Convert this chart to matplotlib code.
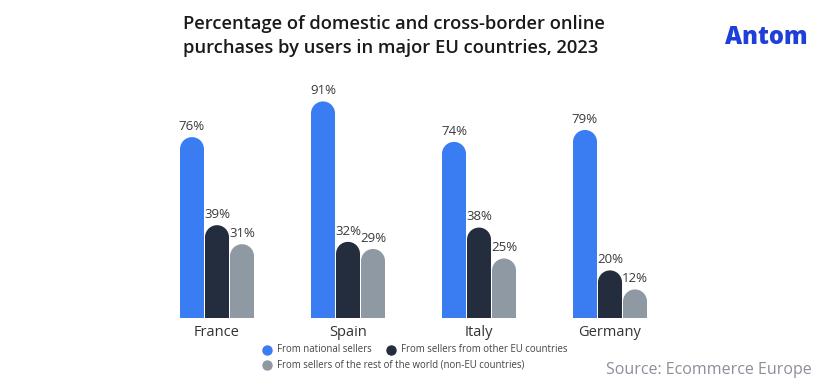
import numpy as np
import matplotlib.pyplot as plt
from matplotlib.patches import Rectangle, Ellipse
from matplotlib.lines import Line2D

plt.rcParams['font.family'] = ['Open Sans', 'Noto Sans', 'DejaVu Sans']

# data
countries = ['France', 'Spain', 'Italy', 'Germany']
national = [76, 91, 74, 79]
other_eu = [39, 32, 38, 20]
rest_world = [31, 29, 25, 12]
series_names = ['From national sellers',
                'From sellers from other EU countries',
                'From sellers of the rest of the world (non-EU countries)']
colors = ['#3A7CF2', '#232D3D', '#8F99A4']

W_PX, H_PX = 828, 390
fig = plt.figure(figsize=(W_PX / 100, H_PX / 100), dpi=100)
fig.patch.set_facecolor('white')

# axes placed in pixel terms: baseline at y=318, 2.38 px per %
ax_l, ax_r, ax_b, ax_t = 150, 680, 318, 80
ax = fig.add_axes([ax_l / W_PX, 1 - ax_b / H_PX, (ax_r - ax_l) / W_PX, (ax_b - ax_t) / H_PX])
ax.set_facecolor('white')
spacing_px = 131.0
first_c = 217
ax.set_xlim((ax_l - first_c) / spacing_px, (ax_r - first_c) / spacing_px)
ymax = (ax_b - ax_t) / 2.38
ax.set_ylim(0, ymax)
ax.axis('off')

bar_px = 24.0
bw = bar_px / spacing_px
step = 25.0 / spacing_px
cap_h = (bar_px / 2) / 2.38  # radius in data y units

for si, vals in enumerate([national, other_eu, rest_world]):
    for ci, v in enumerate(vals):
        x = ci + (si - 1) * step
        ax.add_patch(Rectangle((x - bw / 2, 0), bw, v - cap_h, color=colors[si], lw=0))
        ax.add_patch(Ellipse((x, v - cap_h), bw, 2 * cap_h, color=colors[si], lw=0))
        ax.text(x, v + 1.8, f'{v}%', ha='center', va='bottom', fontsize=9.5, color='#3a3a3a')

for ci, c in enumerate(countries):
    ax.text(ci, -3.0, c, ha='center', va='top', fontsize=10.5, color='#333333')

# title
fig.text(183 / W_PX, 1 - 15 / H_PX,
         'Percentage of domestic and cross-border online\npurchases by users in major EU countries, 2023',
         ha='left', va='top', fontsize=13.2, fontweight='semibold', color='#1a1a1a', linespacing=1.4)

# logo text
fig.text(808 / W_PX, 1 - 38 / H_PX, 'Antom', ha='right', va='center',
         fontsize=17, fontweight='heavy', color='#1E3FD8')

# legend
leg_items = [(267, 350, 0), (391, 350, 1), (267, 365, 2)]
for x, y, i in leg_items:
    fig.add_artist(Line2D([x / W_PX], [1 - y / H_PX], marker='o', markersize=6.5,
                          color=colors[i], linestyle='none', transform=fig.transFigure))
    fig.text((x + 10) / W_PX, 1 - y / H_PX, series_names[i], ha='left', va='center',
             fontsize=6.9, color='#444444')

# source
fig.text(812 / W_PX, 1 - 370 / H_PX, 'Source: Ecommerce Europe', ha='right', va='center',
         fontsize=11.5, color='#8A9099')

fig.savefig('out.png', dpi=100)
